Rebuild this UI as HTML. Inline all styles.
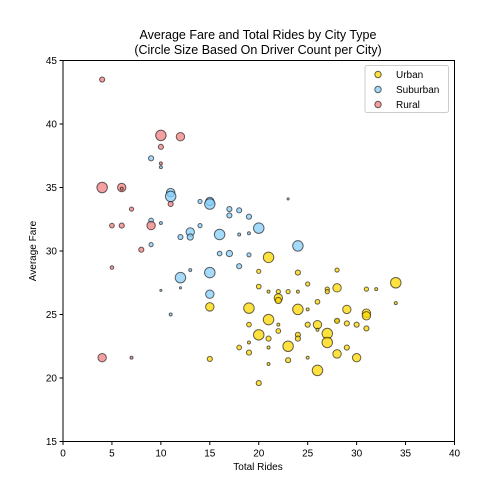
<!DOCTYPE html>
<html><head><meta charset="utf-8"><style>
body{margin:0;background:#fff}
svg{font-family:"Liberation Sans","DejaVu Sans",sans-serif;display:block}
</style></head><body>
<svg id="chart" width="504" height="504" viewBox="0 0 504 504">
<g id="marks"></g>
<g id="axes"></g>
</svg>
<script>
const xTicks=[0,5,10,15,20,25,30,35,40];
const yTicks=[15,20,25,30,35,40,45];
const urbanPts=[[21,29.5,25],[20,28.4,4],[24,28.3,6],[28,28.5,4],[20,27.2,5],[21,26.8,2],[22,26.8,4],[23,26.8,4],[24,26.8,2],[25,27.4,4],[27,27.0,4],[27,26.8,4],[28,27.1,16],[31,27.0,4],[32,27.0,2],[34,27.5,25],[22,26.3,16],[22,26.1,9],[26,26.0,5],[34,25.9,2],[15,25.6,16],[19,25.5,25],[24,25.4,25],[25,25.4,2],[29,25.4,16],[31,25.1,16],[31,24.9,16],[21,24.6,25],[22,24.2,2],[28,24.5,2],[19,24.2,5],[22,23.7,5],[25,24.2,6],[26,24.2,16],[28,24.5,6],[29,24.3,6],[30,24.2,6],[31,23.9,6],[26,23.8,2],[27,23.5,25],[27,22.8,25],[20,23.4,25],[21,23.1,6],[24,23.4,6],[24,23.1,6],[23,22.5,25],[18,22.4,5],[19,22.8,2],[21,22.4,2],[19,22.0,6],[29,22.4,6],[28,21.9,16],[30,21.6,16],[15,21.5,6],[21,21.1,2],[23,21.4,6],[25,21.6,2],[26,20.6,25],[20,19.6,6]];
const suburbanPts=[[9,37.3,6],[10,36.6,2],[11,34.6,16],[11,34.3,25],[14,33.9,4],[15,33.9,16],[15,33.7,25],[17,33.3,6],[17,32.8,6],[18,33.2,6],[19,32.7,6],[20,31.8,25],[9,32.4,5],[10,32.2,2],[12,31.1,6],[13,31.5,16],[13,31.1,9],[14,32.0,4],[16,31.3,25],[18,31.3,2],[19,31.4,2],[9,30.5,4],[16,29.8,5],[17,29.8,9],[19,29.7,4],[24,30.4,25],[13,28.5,2],[15,28.3,25],[18,28.8,6],[12,27.9,25],[10,26.9,1],[12,27.1,1],[15,26.6,16],[11,25.0,2],[23,34.1,1]];
const ruralPts=[[4,43.5,6],[10,39.1,25],[12,39.0,16],[10,38.2,6],[10,36.9,2],[4,35.0,25],[6,35.0,16],[6,34.9,2],[7,33.3,4],[11,33.7,6],[5,32.0,5],[6,32.0,6],[9,32.0,16],[8,30.1,6],[5,28.7,3],[4,21.6,16],[7,21.6,2]];

const NS='http://www.w3.org/2000/svg';
const L=63,R=454.5,T=60.5,B=441.5;
const sx=v=>L+(v-0)/(40-0)*(R-L);
const sy=v=>B-(v-15)/(45-15)*(B-T);
function mk(tag,attrs,parent,text){const e=document.createElementNS(NS,tag);for(const k in attrs)e.setAttribute(k,attrs[k]);if(text!==undefined)e.textContent=text;parent.appendChild(e);return e;}
const marks=document.getElementById('marks');
const axes=document.getElementById('axes');
const series=[['urban',urbanPts,'#FFD700'],['suburban',suburbanPts,'#87CEFA'],['rural',ruralPts,'#F08080']];
series.forEach(([name,pts,col])=>{
  pts.forEach(p=>{
    const c=mk('circle',{cx:sx(p[0]),cy:sy(p[1]),r:Math.sqrt(p[2])*1.05,fill:col,'fill-opacity':0.75,stroke:'#000','stroke-opacity':0.6,'stroke-width':1},marks);
    
    
  });
});
// frame
const fr=mk('rect',{x:L,y:T,width:R-L,height:B-T,fill:'none',stroke:'#000','stroke-width':1},axes);


xTicks.forEach(t=>{
  const x=sx(t);
  mk('line',{x1:x,x2:x,y1:B,y2:B+3.5,stroke:'#000'},axes);
  const tx=mk('text',{x:x,y:B+15,'font-size':10,'text-anchor':'middle'},axes,String(t));
  
  
});
yTicks.forEach(t=>{
  const y=sy(t);
  mk('line',{x1:L-3.5,x2:L,y1:y,y2:y,stroke:'#000'},axes);
  const tx=mk('text',{x:L-6,y:y+3.5,'font-size':10,'text-anchor':'end'},axes,String(t));
  
  
});
</script>
<svg width="504" height="504" style="position:absolute;left:0;top:0">
<text x="258" y="39" font-size="12.5" text-anchor="middle">Average Fare and Total Rides by City Type</text>
<text x="258" y="54" font-size="12.5" text-anchor="middle">(Circle Size Based On Driver Count per City)</text>
<text x="258" y="470" font-size="10" text-anchor="middle">Total Rides</text>
<text x="36" y="251" font-size="10" text-anchor="middle" transform="rotate(-90 36 251)">Average Fare</text>
<g>
<rect x="365" y="65.5" width="83.5" height="47" fill="#fff" fill-opacity="0.8" stroke="#ccc" rx="2"/>
<circle cx="378" cy="74.5" r="3.2" fill="#FFD700" fill-opacity="0.75" stroke="#000" stroke-opacity="0.6"/>
<text x="396" y="78" font-size="10">Urban</text>
<circle cx="378" cy="89.5" r="3.2" fill="#87CEFA" fill-opacity="0.75" stroke="#000" stroke-opacity="0.6"/>
<text x="396" y="93" font-size="10">Suburban</text>
<circle cx="378" cy="104.5" r="3.2" fill="#F08080" fill-opacity="0.75" stroke="#000" stroke-opacity="0.6"/>
<text x="396" y="108" font-size="10">Rural</text>
</g>
</svg>
</body></html>
